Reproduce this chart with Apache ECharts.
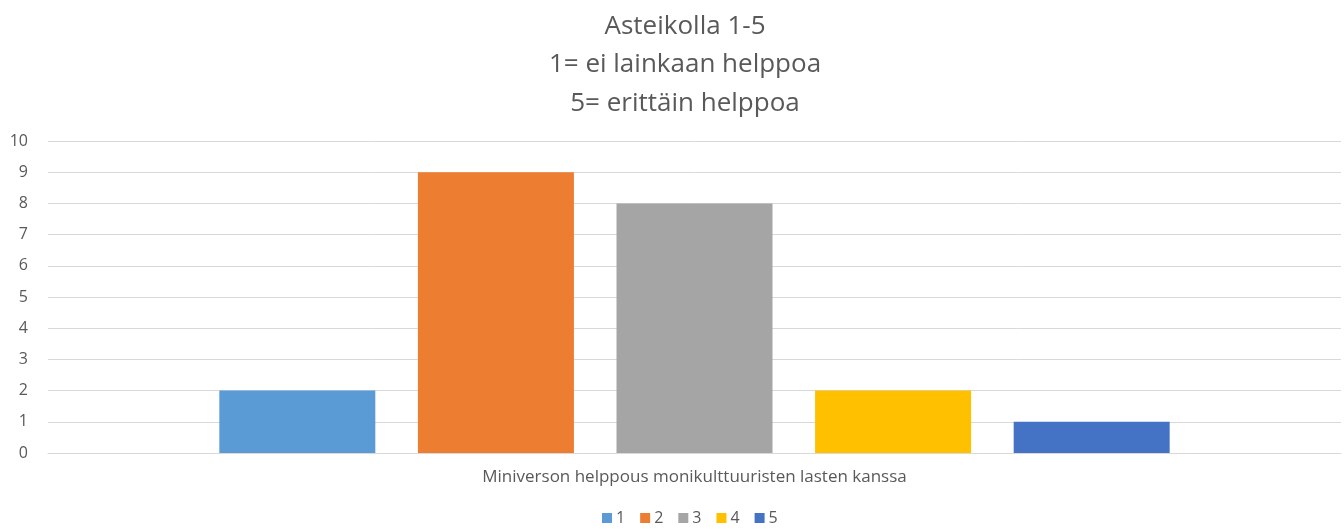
<!DOCTYPE html>
<html><head><meta charset="utf-8">
<script src="https://cdn.jsdelivr.net/npm/echarts@6/dist/echarts.min.js"></script>
<style>html,body{margin:0;padding:0;background:#fff}#c{width:1344px;height:529px}</style>
</head><body><div id="c"></div>
<script>
const titleLines = ['Asteikolla 1-5', '1= ei lainkaan helppoa', '5= erittäin helppoa'];
const categories = ['Miniverson helppous monikulttuuristen lasten kanssa'];
const seriesNames = ['1', '2', '3', '4', '5'];
const values1 = [2];
const values2 = [9];
const values3 = [8];
const values4 = [2];
const values5 = [1];
const colors = ['#5B9BD5', '#ED7D31', '#A5A5A5', '#FFC000', '#4472C4'];
const allValues = [values1, values2, values3, values4, values5];

const chart = echarts.init(document.getElementById('c'));
chart.setOption({
  animation: false,
  color: colors,
  title: {
    text: titleLines.join('\n'),
    left: 680, textAlign: 'center', top: 2,
    textStyle: {fontFamily: 'Open Sans', fontSize: 26, fontWeight: 'normal', color: '#595959', lineHeight: 38.5}
  },
  legend: {
    bottom: -2, left: 597,
    itemWidth: 10, itemHeight: 10, itemGap: 15,
    icon: 'rect',
    textStyle: {fontFamily: 'Open Sans', fontSize: 16, color: '#595959', padding: [0,0,0,-1]},
    data: seriesNames
  },
  grid: {left: 48, right: 3, top: 141, bottom: 76},
  xAxis: {
    type: 'category', data: categories,
    axisLine: {lineStyle: {color: '#D9D9D9'}},
    axisTick: {show: false},
    axisLabel: {fontFamily: 'Open Sans', fontSize: 17, color: '#595959', margin: 16}
  },
  yAxis: {
    type: 'value', min: 0, max: 10, interval: 1,
    axisLine: {show: false}, axisTick: {show: false},
    splitLine: {lineStyle: {color: '#D9D9D9'}},
    axisLabel: {fontFamily: 'Open Sans', fontSize: 16, color: '#595959', margin: 20}
  },
  series: seriesNames.map((n, i) => ({
    name: n, type: 'bar', data: allValues[i],
    barWidth: 156, barGap: '27.3%'
  }))
});
</script></body></html>
